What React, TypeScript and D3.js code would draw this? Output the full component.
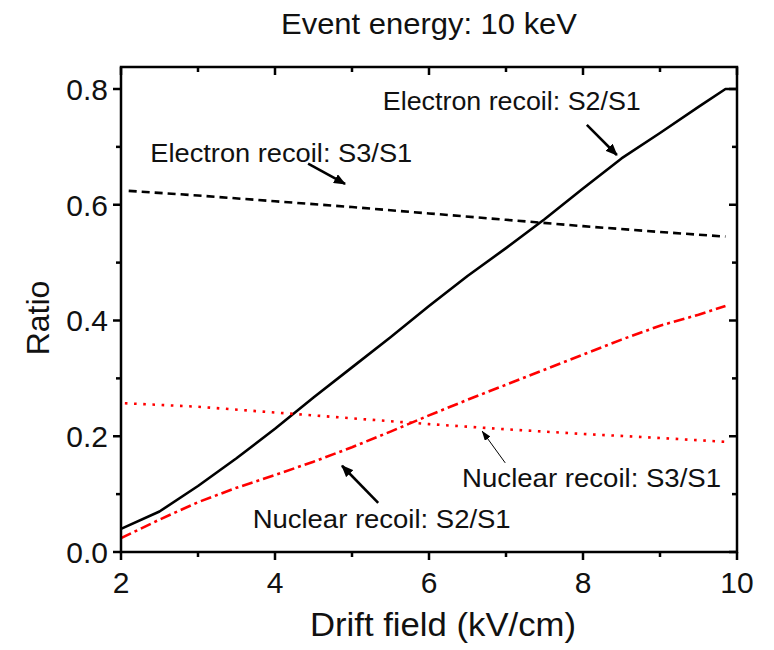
import React from 'react';
import * as d3 from 'd3';

// drift field (kV/cm) and ratio values
const fieldErS2 = [2, 2.5, 3, 3.5, 4, 4.5, 5, 5.5, 6, 6.5, 7, 7.5, 8, 8.5, 9, 9.5, 9.85, 10];
const ratioErS2 = [0.04, 0.07, 0.114, 0.162, 0.213, 0.267, 0.319, 0.371, 0.425, 0.477, 0.525, 0.575, 0.628, 0.68, 0.724, 0.769, 0.8, 0.8];

const fieldErS3 = [2.1, 3, 4, 5, 6, 7, 8, 9, 9.85];
const ratioErS3 = [0.624, 0.616, 0.606, 0.596, 0.585, 0.574, 0.563, 0.553, 0.545];

const fieldNrS2 = [2, 2.5, 3, 3.5, 4, 4.5, 5, 5.5, 6, 6.5, 7, 7.5, 8, 8.5, 9, 9.5, 9.85];
const ratioNrS2 = [0.024, 0.056, 0.086, 0.111, 0.133, 0.156, 0.181, 0.208, 0.236, 0.263, 0.289, 0.315, 0.341, 0.367, 0.391, 0.41, 0.425];

const fieldNrS3 = [2.05, 3, 4, 5, 6, 7, 8, 9, 9.9];
const ratioNrS3 = [0.257, 0.251, 0.241, 0.231, 0.221, 0.212, 0.204, 0.197, 0.19];

const xMajorTicks = [2, 4, 6, 8, 10];
const xMinorTicks = [3, 5, 7, 9];
const yMajorTicks = [0, 0.2, 0.4, 0.6, 0.8];
const yMinorTicks = [0.1, 0.3, 0.5, 0.7];

const title = 'Event energy: 10 keV';
const xTitle = 'Drift field (kV/cm)';
const yTitle = 'Ratio';

// label text, anchor (data units), arrow start and tip (data units)
const labels = [
  { text: 'Electron recoil: S2/S1', x: 5.4, y: 0.764, len: 258, from: [8.05, 0.738], to: [8.44, 0.686], thin: false },
  { text: 'Electron recoil: S3/S1', x: 2.38, y: 0.674, len: 262, from: [4.43, 0.671], to: [4.91, 0.636], thin: false },
  { text: 'Nuclear recoil: S3/S1', x: 6.43, y: 0.112, len: 259, from: [6.99, 0.154], to: [6.69, 0.209], thin: true },
  { text: 'Nuclear recoil: S2/S1', x: 3.71, y: 0.041, len: 258, from: [5.34, 0.085], to: [4.87, 0.149], thin: false },
];

const W = 774;
const H = 650;
const FONT = '"Liberation Sans", Arial, Helvetica, sans-serif';

export default function App() {
  const x = d3.scaleLinear().domain([2, 10]).range([121, 737]);
  const y = d3.scaleLinear().domain([0, 0.838]).range([552, 67]);

  const line = d3
    .line<[number, number]>()
    .x((d) => x(d[0]))
    .y((d) => y(d[1]));

  const pts = (xs: number[], ys: number[]) => xs.map((v, i) => [v, ys[i]] as [number, number]);

  const [x0, x1] = x.range();
  const [y0, y1] = y.range();

  return (
    <div style={{ position: 'absolute', left: 0, top: 0 }}>
      <svg width={W} height={H} style={{ display: 'block', background: '#fff' }} fontFamily={FONT}>
        <defs>
          <marker id="headBig" viewBox="0 0 12 10" refX="11" refY="5" markerWidth="12" markerHeight="10" markerUnits="userSpaceOnUse" orient="auto">
            <path d="M0,0 L12,5 L0,10 Z" fill="#000" />
          </marker>
          <marker id="headThin" viewBox="0 0 10 7" refX="9.5" refY="3.5" markerWidth="10" markerHeight="7" markerUnits="userSpaceOnUse" orient="auto">
            <path d="M0,0 L10,3.5 L0,7 Z" fill="#000" />
          </marker>
        </defs>

        {/* title */}
        <text x={(x0 + x1) / 2} y={34} textAnchor="middle" fontSize={30} fill="#111" textLength={296} lengthAdjust="spacingAndGlyphs">
          {title}
        </text>

        {/* series */}
        <path d={line(pts(fieldErS2, ratioErS2)) || ''} fill="none" stroke="#000" strokeWidth={2.6} strokeLinejoin="round" />
        <path d={line(pts(fieldErS3, ratioErS3)) || ''} fill="none" stroke="#000" strokeWidth={2.6} strokeDasharray="8 5" />
        <path d={line(pts(fieldNrS2, ratioNrS2)) || ''} fill="none" stroke="#ff0000" strokeWidth={2.6} strokeDasharray="11 4 3 4" />
        <path d={line(pts(fieldNrS3, ratioNrS3)) || ''} fill="none" stroke="#ff0000" strokeWidth={2.6} strokeDasharray="2.6 6.6" />

        {/* frame */}
        <rect x={x0} y={y1} width={x1 - x0} height={y0 - y1} fill="none" stroke="#000" strokeWidth={2.5} />

        {/* x ticks: bottom outward, top inward */}
        {xMajorTicks.map((t) => (
          <g key={'xm' + t}>
            <line x1={x(t)} x2={x(t)} y1={y0} y2={y0 + 8} stroke="#000" strokeWidth={2.5} />
            <line x1={x(t)} x2={x(t)} y1={y1} y2={y1 + 8} stroke="#000" strokeWidth={2.5} />
            <text x={x(t)} y={y0 + 41} textAnchor="middle" fontSize={30} fill="#111">
              {t}
            </text>
          </g>
        ))}
        {xMinorTicks.map((t) => (
          <g key={'xn' + t}>
            <line x1={x(t)} x2={x(t)} y1={y0} y2={y0 + 5} stroke="#000" strokeWidth={2.5} />
            <line x1={x(t)} x2={x(t)} y1={y1} y2={y1 + 5} stroke="#000" strokeWidth={2.5} />
          </g>
        ))}

        {/* y ticks: left outward, right inward */}
        {yMajorTicks.map((t) => (
          <g key={'ym' + t}>
            <line x1={x0 - 8} x2={x0} y1={y(t)} y2={y(t)} stroke="#000" strokeWidth={2.5} />
            <line x1={x1 - 8} x2={x1} y1={y(t)} y2={y(t)} stroke="#000" strokeWidth={2.5} />
            <text x={x0 - 13} y={y(t) + 11} textAnchor="end" fontSize={30} fill="#111">
              {d3.format('.1f')(t)}
            </text>
          </g>
        ))}
        {yMinorTicks.map((t) => (
          <g key={'yn' + t}>
            <line x1={x0 - 5} x2={x0} y1={y(t)} y2={y(t)} stroke="#000" strokeWidth={2.5} />
            <line x1={x1 - 5} x2={x1} y1={y(t)} y2={y(t)} stroke="#000" strokeWidth={2.5} />
          </g>
        ))}

        {/* axis titles */}
        <text x={443} y={636} textAnchor="middle" fontSize={33} fill="#111" textLength={266} lengthAdjust="spacingAndGlyphs">
          {xTitle}
        </text>
        <text transform={`translate(49, ${318}) rotate(-90)`} textAnchor="middle" fontSize={32} fill="#111">
          {yTitle}
        </text>

        {/* annotations */}
        {labels.map((l) => (
          <g key={l.text}>
            <text x={x(l.x)} y={y(l.y)} fontSize={26} fill="#111" textLength={l.len} lengthAdjust="spacingAndGlyphs">
              {l.text}
            </text>
            <line
              x1={x(l.from[0])}
              y1={y(l.from[1])}
              x2={x(l.to[0])}
              y2={y(l.to[1])}
              stroke="#000"
              strokeWidth={l.thin ? 1 : 2.6}
              markerEnd={l.thin ? 'url(#headThin)' : 'url(#headBig)'}
            />
          </g>
        ))}
      </svg>
    </div>
  );
}
